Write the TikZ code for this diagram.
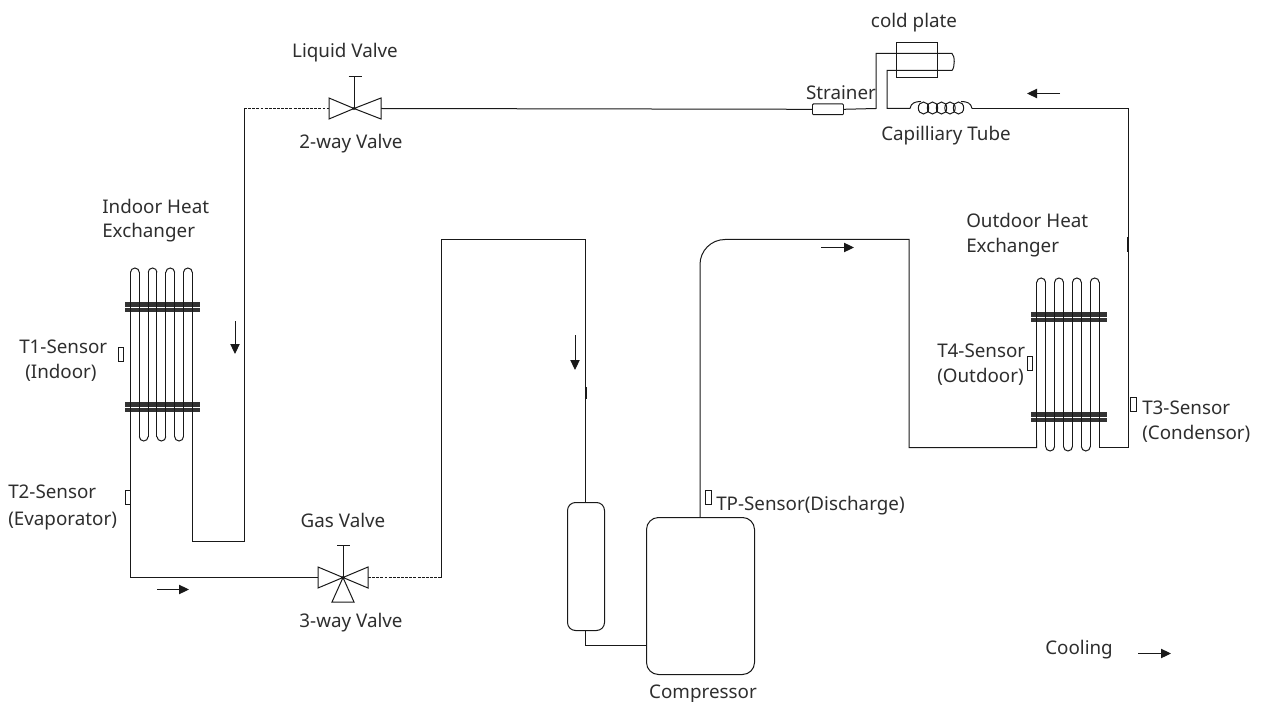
\documentclass[tikz,border=0pt]{standalone}
\usepackage{fontspec}
\setmainfont{Noto Sans}
\usetikzlibrary{arrows.meta}
\definecolor{pipe}{gray}{0.1}
\definecolor{fin}{gray}{0.2}
\tikzset{
  x=0.75pt,y=-0.75pt,
  pipeline/.style={draw=pipe,line width=0.75pt,line join=miter},
  dashpipe/.style={draw=pipe,line width=0.75pt,dash pattern=on 2.2pt off 0.9pt},
  flow/.style={draw=pipe,line width=0.75pt,-{Triangle[length=7.5pt,width=7pt]}},
  lab/.style={inner sep=0pt,font=\fontsize{14.1}{16}\selectfont,text=black!82},
  labl/.style={lab,anchor=west},
  sensor/.style={draw=pipe,line width=0.6pt,fill=white,inner sep=0pt,minimum width=4.2pt,minimum height=10.5pt},
  finbar/.style={fill=fin,draw=none},
  valve/.style={draw=pipe,line width=0.75pt,fill=white,line join=miter},
  mark seg/.style={draw=pipe,line width=1.3pt},
}
% #1 left x, #2 gap, #3 top y, #4 bottom y
\newcommand{\coilset}[4]{%
  \foreach \i in {0,1,...,7}{
    \pgfmathsetmacro{\xa}{#1+\i*#2}
    \draw[pipeline] (\xa,#3+#2/2) -- (\xa,#4-#2/2);
  }
  \foreach \i in {0,1,2,3}{
    \pgfmathsetmacro{\xa}{#1+\i*#2*2}
    \draw[pipeline] (\xa,#3+#2/2) arc[start angle=180,end angle=360,radius=#2/2];
  }
  \foreach \i in {0,1,2}{
    \pgfmathsetmacro{\xb}{#1+\i*#2*2+#2}
    \draw[pipeline] (\xb,#4-#2/2) arc[start angle=180,end angle=0,radius=#2/2];
  }
}
\begin{document}
\begin{tikzpicture}
\useasboundingbox (0,0) rectangle (1266,702);
% fins indoor
\foreach \y in {302,402}{
  \fill[finbar] (125,\y) rectangle (200,\y+4.5);
  \fill[finbar] (125,\y+5.7) rectangle (200,\y+10.2);
}
% fins outdoor
\foreach \y in {312,412}{
  \fill[finbar] (1031,\y) rectangle (1107,\y+4.5);
  \fill[finbar] (1031,\y+5.7) rectangle (1107,\y+10.2);
}
% coils
\coilset{130.5}{8.83}{268}{441}
\coilset{1036.7}{8.93}{278}{451}
% named points
\coordinate (indoorL) at (130.5,430);
\coordinate (indoorR) at (192.3,430);
\coordinate (outL) at (1036.7,440);
\coordinate (outR) at (1099.2,440);
\node[draw=pipe,line width=0.75pt,rounded corners=6pt,inner sep=0pt,fill=white,anchor=north west,minimum width=27.75pt,minimum height=96pt] (accum) at (567,502) {};
\node[draw=pipe,line width=0.75pt,rounded corners=9pt,inner sep=0pt,fill=white,anchor=north west,minimum width=81pt,minimum height=117.75pt] (comp) at (646,517) {};
\node[draw=pipe,line width=0.75pt,inner sep=0pt,anchor=north west,minimum width=30.75pt,minimum height=26.25pt] (plate) at (896,42) {};
\node[draw=pipe,line width=0.7pt,rounded corners=0.7pt,inner sep=0pt,fill=white,anchor=north west,minimum width=23.25pt,minimum height=8pt] (strainer) at (812,103.5) {};
% pipes
\draw[pipeline] (indoorL) -- (130.5,577.5) -- (318,577.5);
\draw[pipeline] (indoorR) -- (192.3,541.5) -- (244,541.5) -- (244,108.5);
\draw[dashpipe] (244,108.5) -- (329,108.5);
\draw[pipeline] (381,108.5) -- (strainer.west);
\draw[pipeline] (strainer.east) -- (876,108.5) -- (876,53.5) -- (952,53.5)
  .. controls (955,56) and (955,67) .. (952,70.5) -- (887,70.5) -- (887,108.5) -- (910,108.5);
\draw[pipeline] (910,108.5) .. controls (911,103) and (915,101.5) .. (921,101.5);
\foreach \cx in {923.5,932.5,941.5,950,958.5}{
  \draw[pipeline] (\cx,108) ellipse[x radius=5.2,y radius=6];
}
\draw[pipeline] (961,101.5) .. controls (967,101.5) and (971,103) .. (972,108.5);
\draw[pipeline] (972,108.5) -- (1128,108.5) -- (1128,447.5) -- (1099.2,447.5) -- (outR);
\draw[pipeline] (outL) -- (1036.7,447.5) -- (909,447.5) -- (909,239.5) -- (725,239.5) arc[start angle=-90,end angle=-180,radius=25] -- (700,517);
\draw[dashpipe] (368,577.5) -- (441,577.5);
\draw[pipeline] (441,577.5) -- (441,239.5) -- (585.7,239.5) -- (585.7,502);
\draw[pipeline,line width=1pt] (585.7,630) -- (585.7,645.7) -- (646,645.7);
% dark joints on the long pipes
\draw[mark seg] (585.7,387) -- (585.7,399);
\draw[mark seg] (1128,237) -- (1128,252);
% valves
\draw[valve] (329,98) -- (354,108.5) -- (329,119) -- cycle;
\draw[valve] (381,98) -- (354,108.5) -- (381,119) -- cycle;
\draw[pipeline] (354,108.5) -- (354,76.5);
\draw[pipeline] (348.5,76.5) -- (361.5,76.5);
\fill[pipe] (354,108.5) circle[radius=1.2pt];
\draw[valve] (318,567) -- (343,577.5) -- (318,588) -- cycle;
\draw[valve] (368,567) -- (343,577.5) -- (368,588) -- cycle;
\draw[valve] (332,602) -- (343,577.5) -- (354,602) -- cycle;
\draw[pipeline] (343,577.5) -- (343,545.5);
\draw[pipeline] (337,545.5) -- (350,545.5);
\fill[pipe] (343,577.5) circle[radius=1.2pt];
% sensors
\node[sensor] (s1) at (121,354.5) {};
\node[sensor] (s2) at (127.8,497) {};
\node[sensor] (s3) at (1133.5,404) {};
\node[sensor] (s4) at (1030,363) {};
\node[sensor] (sp) at (708.5,497.5) {};
% arrows
\coordinate (a1s) at (235,321); \coordinate (a1e) at (235,354);
\draw[flow] (a1s) -- (a1e);
\coordinate (a2s) at (575,335); \coordinate (a2e) at (575,370);
\draw[flow] (a2s) -- (a2e);
\coordinate (a3s) at (157,589.5); \coordinate (a3e) at (189,589.5);
\draw[flow] (a3s) -- (a3e);
\coordinate (a4s) at (821,247.5); \coordinate (a4e) at (854,247.5);
\draw[flow] (a4s) -- (a4e);
\coordinate (a5s) at (1060,93.5); \coordinate (a5e) at (1027,93.5);
\draw[flow] (a5s) -- (a5e);
\coordinate (a6s) at (1138,653.5); \coordinate (a6e) at (1171,653.5);
\draw[flow] (a6s) -- (a6e);
% labels
\node[lab] (t1) at (914,23) {cold plate};
\node[lab] (t2) at (841,93) {Strainer};
\node[lab] (t3) at (946,136) {Capilliary Tube};
\node[lab] (t4) at (345,53) {Liquid Valve};
\node[lab] (t5) at (351,144) {2-way Valve};
\node[labl] (t6) at (102,206) {Indoor Heat};
\node[labl] (t7) at (102,233) {Exchanger};
\node[labl] (t8) at (19,347) {T1-Sensor};
\node[labl] (t9) at (25,373) {(Indoor)};
\node[labl] (t10) at (8,492) {T2-Sensor};
\node[labl] (t11) at (8,521) {(Evaporator)};
\node[lab] (t12) at (343,520) {Gas Valve};
\node[lab] (t13) at (351,623) {3-way Valve};
\node[labl] (t14) at (966,220) {Outdoor Heat};
\node[labl] (t15) at (966,248) {Exchanger};
\node[labl] (t16) at (937,351) {T4-Sensor};
\node[labl] (t17) at (937,377) {(Outdoor)};
\node[labl] (t18) at (1142,408) {T3-Sensor};
\node[labl] (t19) at (1142,434) {(Condensor)};
\node[labl] (t20) at (716,506) {TP-Sensor(Discharge)};
\node[lab] (t21) at (703,694) {Compressor};
\node[labl] (t22) at (1045,650) {Cooling};
\end{tikzpicture}
\end{document}
